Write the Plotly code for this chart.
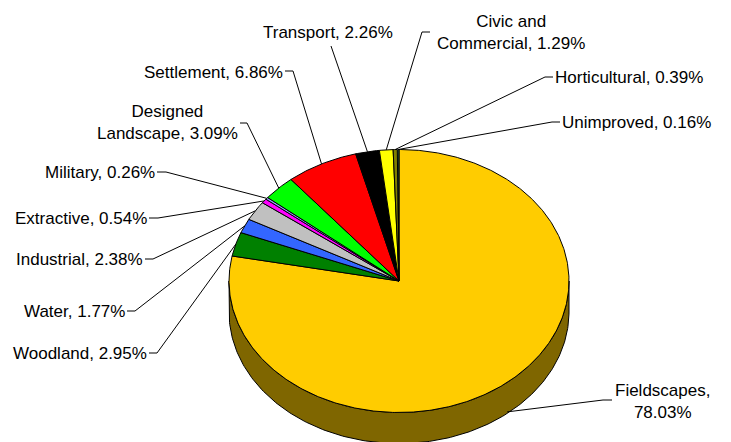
import numpy as np
import plotly.graph_objects as go

# Land-use shares (%), in clockwise order starting at 12 o'clock
categories = ["Fieldscapes", "Woodland", "Water", "Industrial", "Extractive",
              "Military", "Designed Landscape", "Settlement", "Transport",
              "Civic and Commercial", "Horticultural", "Unimproved"]
shares = [78.03, 2.95, 1.77, 2.38, 0.54, 0.26, 3.09, 6.86, 2.26, 1.29, 0.39, 0.16]
label_texts = ["Fieldscapes,<br>78.03%", "Woodland, 2.95%", "Water, 1.77%",
               "Industrial, 2.38%", "Extractive, 0.54%", "Military, 0.26%",
               "Designed<br>Landscape, 3.09%", "Settlement, 6.86%",
               "Transport, 2.26%", "Civic and<br>Commercial, 1.29%",
               "Horticultural, 0.39%", "Unimproved, 0.16%"]

top_colors = ["#FFCC00", "#008000", "#3366FF", "#C0C0C0", "#FF00FF", "#9999FF",
              "#00FF00", "#FF0000", "#000000", "#FFFF00", "#808000", "#339966"]


def darken(hex_color, f=0.5):
    h = hex_color.lstrip("#")
    r, g, b = (int(h[i:i + 2], 16) for i in (0, 2, 4))
    return "#%02X%02X%02X" % (int(r * f), int(g * f), int(b * f))


# Pie geometry (pixel space of the page)
CX, CY = 399.0, 281.0
RX, RY = 170.0, 131.5
DEPTH = 31.0
W, H = 731, 442


def rim(theta_deg, drop=0.0):
    t = np.radians(theta_deg)
    return CX + RX * np.sin(t), CY - RY * np.cos(t) + drop


# Label placement: annotation anchor and leader elbow points
label_layout = {
    "Fieldscapes": dict(x=662, y=401, xanchor="center", path=[(612, 400), (603, 400)], on_side=True),
    "Woodland": dict(x=148, y=353, xanchor="right", path=[(149, 353), (157, 353)]),
    "Water": dict(x=126, y=311, xanchor="right", path=[(127, 311), (135, 311)]),
    "Industrial": dict(x=144, y=259, xanchor="right", path=[(145, 259), (153, 259)]),
    "Extractive": dict(x=148, y=218, xanchor="right", path=[(149, 218), (158, 218)]),
    "Military": dict(x=156, y=172, xanchor="right", path=[(157, 172), (166, 172)]),
    "Designed Landscape": dict(x=167, y=122, xanchor="center", path=[(240, 123), (247, 123)]),
    "Settlement": dict(x=284, y=72, xanchor="right", path=[(285, 71), (293, 71)]),
    "Transport": dict(x=328, y=32, xanchor="center", path=[(331, 46)]),
    "Civic and Commercial": dict(x=511, y=32, xanchor="center", path=[(430, 32), (422, 32)]),
    "Horticultural": dict(x=554, y=77, xanchor="left", path=[(553, 77), (545, 77)]),
    "Unimproved": dict(x=561, y=122, xanchor="left", path=[(560, 122), (552, 122)]),
}

fig = go.Figure()

total = float(sum(shares))
bounds = np.concatenate([[0.0], np.cumsum(shares)]) / total * 360.0

# Side wall: only the front half (90..270 deg clockwise from top) is visible
for i, name in enumerate(categories):
    a0, a1 = max(bounds[i], 90.0), min(bounds[i + 1], 270.0)
    if a1 <= a0:
        continue
    th = np.linspace(a0, a1, 200)
    xt, yt = rim(th)
    xb, yb = rim(th[::-1], DEPTH)
    fig.add_trace(go.Scatter(
        x=np.concatenate([xt, xb, xt[:1]]), y=np.concatenate([yt, yb, yt[:1]]),
        mode="lines", fill="toself", fillcolor=darken(top_colors[i]),
        line=dict(color="black", width=1), hoverinfo="skip", showlegend=False))

# Top faces of the slices
for i, name in enumerate(categories):
    n = max(int((bounds[i + 1] - bounds[i]) * 2), 4)
    th = np.linspace(bounds[i], bounds[i + 1], n)
    xs, ys = rim(th)
    fig.add_trace(go.Scatter(
        x=np.concatenate([[CX], xs, [CX]]), y=np.concatenate([[CY], ys, [CY]]),
        mode="lines", fill="toself", fillcolor=top_colors[i],
        line=dict(color="black", width=1), hoverinfo="skip", showlegend=False,
        name=name))

# Leader lines and labels
for i, name in enumerate(categories):
    spec = label_layout[name]
    mid = (bounds[i] + bounds[i + 1]) / 2.0
    ex, ey = rim(mid, DEPTH * 0.95 if spec.get("on_side") else 0.0)
    px = [p[0] for p in spec["path"]] + [float(ex)]
    py = [p[1] for p in spec["path"]] + [float(ey)]
    fig.add_trace(go.Scatter(x=px, y=py, mode="lines",
                             line=dict(color="black", width=1),
                             hoverinfo="skip", showlegend=False))
    fig.add_annotation(x=spec["x"], y=spec["y"], xref="x", yref="y",
                       text=label_texts[i], showarrow=False,
                       xanchor=spec["xanchor"], yanchor="middle", align="center",
                       borderpad=0,
                       font=dict(family="Liberation Sans, Arial, sans-serif",
                                 size=17, color="black"))

fig.update_xaxes(range=[0, W], visible=False, fixedrange=True)
fig.update_yaxes(range=[H, 0], visible=False, fixedrange=True)
fig.update_layout(width=W, height=H, margin=dict(l=0, r=0, t=0, b=0),
                  paper_bgcolor="white", plot_bgcolor="white")

fig.write_html("out.html")
